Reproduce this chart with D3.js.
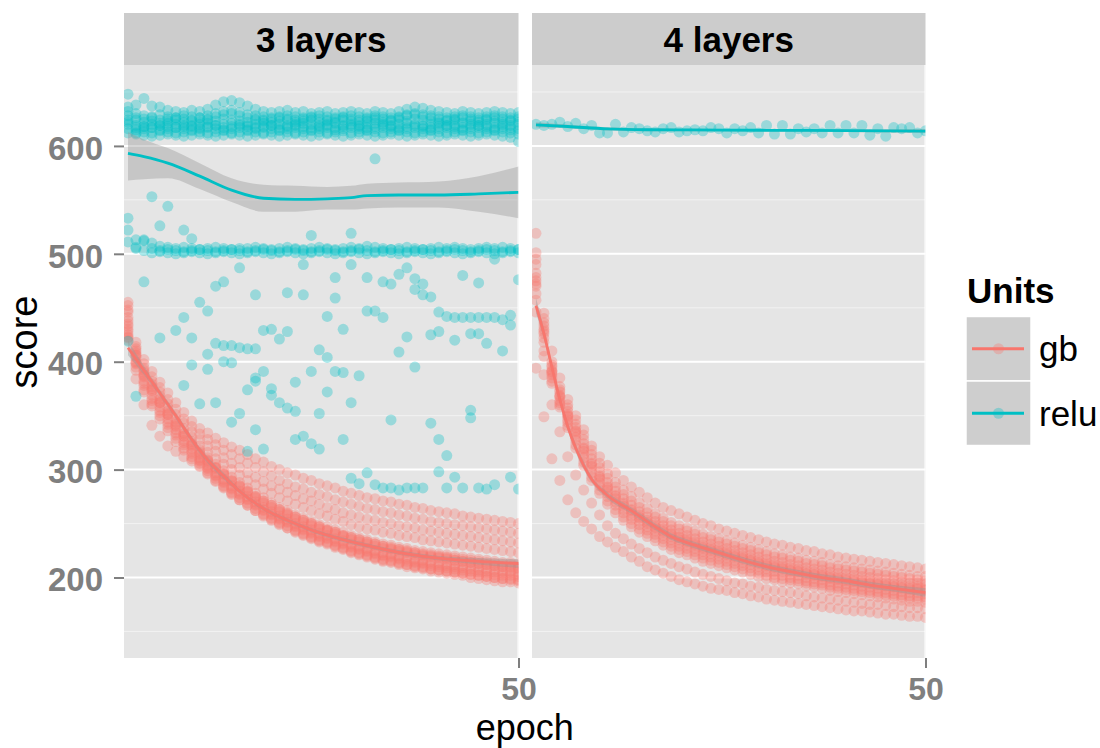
<!DOCTYPE html>
<html>
<head>
<meta charset="utf-8">
<title>score by epoch</title>
<script src="https://cdn.jsdelivr.net/npm/d3@7/dist/d3.min.js"></script>
<style>
  html, body { margin: 0; padding: 0; background: #ffffff; }
  svg { display: block; font-family: "Liberation Sans", Arial, Helvetica, sans-serif; }
</style>
</head>
<body>
<svg id="chart" width="1100" height="748"></svg>
<script>
// ---- categories and ticks ----
const facets = ["3 layers", "4 layers"];
const units = ["gb", "relu"];
const unitColors = ["#F8766D", "#00BFC4"];
const epochs = [1,2,3,4,5,6,7,8,9,10,11,12,13,14,15,16,17,18,19,20,21,22,23,24,25,
                26,27,28,29,30,31,32,33,34,35,36,37,38,39,40,41,42,43,44,45,46,47,48,49,50];
const yTicks = [200, 300, 400, 500, 600];
const yMinorTicks = [150, 250, 350, 450, 550, 650];
const xTicks = [50];

// ---- gb runs, 3 layers (score per epoch) ----
const gb3Runs = [
  [452,418,402,391,381,371,362,353,345,338,334,329,325,321,318,314,310,307,303,300,297,295,292,290,287,285,283,280,278,276,274,273,271,270,268,267,265,264,262,261,260,259,257,256,255,254,253,252,251,250],
  [446,414,398,386,376,365,356,347,340,333,328,323,318,314,310,306,302,298,294,290,287,284,282,279,277,275,272,270,268,266,264,263,261,260,258,257,255,254,252,251,250,249,248,247,246,245,244,243,242,241],
  [441,410,394,382,372,361,351,343,335,328,322,317,311,306,302,297,293,289,285,282,279,276,273,271,268,265,263,260,258,256,254,253,251,250,248,247,246,244,243,242,241,240,239,238,237,236,235,234,233,232],
  [435,406,390,379,368,357,347,338,330,322,316,310,305,300,295,290,286,282,278,274,271,268,265,262,259,257,254,252,249,247,245,244,242,241,239,238,237,235,234,233,232,231,230,229,228,227,226,225,224,223],
  [455,412,392,377,365,354,344,334,326,318,311,305,299,293,288,283,278,274,269,265,262,258,255,252,249,247,244,242,239,237,235,233,231,230,228,227,225,224,223,222,221,220,219,218,217,216,215,214,214,213],
  [438,408,388,375,363,352,342,333,324,316,309,302,296,290,285,280,275,271,267,263,259,256,253,250,247,244,242,239,237,235,233,231,229,227,226,224,223,221,220,219,218,216,215,214,213,212,211,210,209,208],
  [433,406,387,374,362,351,341,331,323,315,308,302,296,290,285,280,275,271,267,263,260,256,253,250,247,244,242,239,237,235,233,231,229,228,226,225,223,222,221,220,219,218,217,216,215,214,213,212,212,211],
  [430,404,386,373,362,351,340,331,322,314,307,301,295,289,284,279,274,269,265,261,258,254,251,248,245,243,240,238,235,233,231,229,227,226,224,223,221,220,219,218,217,216,215,214,213,212,211,210,210,209],
  [425,400,382,369,358,347,337,327,319,311,304,297,291,285,280,275,270,265,261,257,254,250,247,244,241,239,236,234,231,229,227,225,223,222,220,219,217,216,215,214,213,212,211,210,209,208,207,206,206,205],
  [423,399,380,366,355,344,334,325,317,309,302,295,289,283,278,273,268,263,259,255,252,248,245,242,239,237,234,232,229,227,225,223,221,220,218,217,215,214,213,212,211,210,209,208,207,206,205,204,204,203],
  [420,398,378,364,353,342,332,323,315,308,301,294,288,282,277,272,267,262,258,254,251,247,244,241,238,236,233,231,228,226,224,222,220,219,217,215,214,213,211,210,209,208,207,206,205,204,203,202,202,201],
  [428,392,372,359,347,336,326,318,310,303,296,289,283,277,272,267,262,258,254,250,246,243,240,237,234,232,229,227,224,222,220,218,216,215,213,212,210,209,208,207,206,205,204,203,202,201,200,199,198,197],
  [448,395,374,361,350,339,329,320,312,306,299,292,285,279,274,269,264,259,255,251,248,244,241,238,235,233,230,228,225,223,221,219,217,216,214,212,211,210,208,207,206,205,204,203,202,201,200,199,199,198],
  [422,384,360,341,331,322,317,312,308,304,297,290,284,278,272,267,262,257,253,249,246,242,239,236,233,231,228,226,223,221,219,217,215,214,212,210,209,208,206,205,204,203,202,200,199,198,197,196,196,195]
];

// ---- gb runs, 4 layers ----
const gb4Runs = [
  [519,445,410,385,365,350,337,322,312,304,297,290,284,279,274,269,265,262,259,256,253,250,248,245,243,241,239,237,235,233,231,230,228,227,225,224,222,221,219,218,217,216,215,214,213,212,211,210,209,208],
  [501,440,400,377,360,346,332,318,306,296,288,281,275,269,264,259,255,251,248,246,243,240,238,236,234,232,230,228,226,224,222,221,219,218,216,215,214,212,211,210,209,208,207,206,205,204,203,202,201,201],
  [495,436,397,374,357,342,328,314,302,292,284,277,271,265,260,256,252,248,245,243,240,237,235,233,231,229,227,225,223,221,219,218,216,215,213,212,211,209,208,207,206,205,204,203,202,201,200,199,198,197],
  [490,433,395,372,354,339,324,310,298,288,280,273,267,261,256,252,248,244,241,239,236,233,231,229,227,225,223,221,219,217,215,214,212,211,209,208,207,205,204,203,202,201,200,199,198,197,196,195,195,194],
  [482,430,392,369,351,336,320,306,294,284,276,269,263,258,253,249,245,241,238,236,233,230,228,226,224,222,220,218,216,214,212,211,209,208,206,205,204,202,201,200,199,198,197,196,195,194,193,192,192,191],
  [478,428,391,368,350,335,319,305,293,283,275,268,262,256,251,247,243,240,237,234,231,228,226,224,222,220,218,216,214,212,210,209,207,206,204,203,202,200,199,198,197,196,195,194,193,192,191,190,190,189],
  [475,426,390,367,349,333,317,303,291,281,273,266,260,255,250,246,242,238,235,233,230,227,225,223,221,219,217,215,213,211,209,208,206,205,203,202,201,199,198,197,196,195,194,193,192,191,190,189,189,188],
  [472,422,388,364,346,330,314,300,288,278,270,263,257,252,247,243,239,235,232,230,227,224,222,220,218,216,214,212,210,208,206,205,203,202,200,199,198,196,195,194,193,192,191,190,189,188,187,186,186,185],
  [470,418,385,362,344,327,311,297,285,275,267,260,254,249,244,240,236,232,229,227,224,221,219,217,215,213,211,209,207,205,203,202,200,199,197,196,195,193,192,191,190,189,188,187,186,185,184,183,183,182],
  [463,410,382,360,341,323,307,293,281,271,263,256,250,245,241,237,233,229,226,224,221,218,216,214,212,210,208,206,204,202,200,199,198,197,195,194,193,191,190,189,188,187,186,185,184,183,182,181,181,180],
  [457,405,380,358,339,320,304,290,278,268,260,253,247,242,238,234,230,226,223,221,218,215,213,211,209,207,205,203,201,199,198,196,195,194,192,191,190,188,187,186,185,184,183,182,181,180,179,178,178,177],
  [446,388,360,335,312,295,281,269,258,248,241,236,231,227,223,219,216,213,210,208,205,203,201,199,197,195,194,192,191,189,188,187,186,185,183,182,181,180,179,178,177,176,175,175,174,173,173,172,172,171],
  [394,349,310,290,272,260,252,245,238,233,228,224,219,215,210,207,204,201,198,196,194,192,190,189,188,186,185,183,182,180,179,178,177,176,175,174,173,172,171,170,169,169,168,167,166,166,165,164,164,163]
];

// ---- relu runs, 3 layers: the upper band and the band near 500 ----
const relu3Runs = [
  [648,638,644,637,636,633,632,631,633,632,634,638,641,642,640,637,634,632,631,632,633,631,632,630,631,632,630,631,632,631,630,632,631,630,632,634,636,635,633,632,631,630,632,631,630,631,632,631,630,631],
  [636,630,628,627,629,627,626,628,627,626,628,630,632,633,631,629,628,627,626,627,628,627,626,627,628,627,626,627,628,627,626,628,627,626,627,629,630,629,628,627,626,627,628,627,626,627,628,627,626,627],
  [632,626,625,626,624,625,626,625,624,626,625,627,629,630,628,626,625,624,625,626,625,624,625,626,625,624,625,626,625,624,625,626,625,624,626,628,629,627,626,625,624,625,626,625,624,625,626,625,624,625],
  [628,624,622,623,621,623,624,622,623,622,624,623,625,624,623,622,624,623,622,623,624,622,623,624,622,623,622,624,623,622,623,624,622,623,624,623,625,624,623,622,623,624,622,623,622,624,623,622,623,622],
  [624,619,618,620,619,621,620,619,618,620,621,619,620,621,620,619,620,621,619,620,619,620,621,620,619,620,621,619,620,619,620,621,620,619,620,621,620,619,620,621,619,620,621,620,619,620,621,620,619,620],
  [622,617,618,617,619,618,617,618,619,617,618,619,617,618,619,618,617,618,619,617,618,619,618,617,618,619,617,618,619,618,617,618,619,618,617,618,619,618,617,618,619,618,617,618,619,618,617,618,617,616],
  [620,615,616,617,615,616,617,616,615,616,617,616,615,616,617,615,616,617,616,615,616,617,616,615,616,617,615,616,617,616,615,616,617,616,615,616,617,616,615,616,617,616,615,616,617,616,615,616,615,614],
  [616,612,613,612,614,613,612,613,614,613,612,613,614,612,613,614,613,612,613,614,613,612,613,614,613,612,613,614,612,613,614,613,612,613,614,613,612,613,614,613,612,613,614,613,612,613,614,613,612,611],
  [612,611,610,609,610,611,610,609,610,611,610,609,610,611,610,609,610,611,610,609,610,611,610,609,610,611,610,609,610,611,610,609,610,611,610,609,610,611,610,609,610,611,610,609,610,611,610,609,608,604],
  [533,513,512,510,507,506,505,506,505,504,505,506,505,504,505,505,506,505,504,505,506,505,504,505,506,505,504,505,506,505,507,506,505,504,505,506,505,504,505,506,505,506,505,504,505,506,505,506,505,504],
  [522,506,513,505,503,504,503,502,503,504,503,502,503,504,503,502,503,504,503,502,503,504,503,502,503,504,503,502,503,504,503,502,503,504,503,502,503,504,503,502,503,504,503,502,503,504,503,502,503,504],
  [511,505,503,501,502,501,500,501,502,501,500,501,502,501,500,501,502,501,500,501,502,501,500,501,502,501,500,501,502,501,500,501,502,501,500,501,502,501,500,501,502,501,500,501,502,501,500,501,502,501]
];

// ---- relu, 3 layers: scattered scores of the unstable runs [epoch, score] ----
const relu3Scatter = [
  [1,419],[2,368],[3,474],[4,553],[5,526],[5,422],[6,544],[7,429],
  [8,522],[8,441],[8,378],[9,514],[9,422],[9,397],[10,455],[10,361],
  [11,447],[11,407],[11,393],[12,470],[12,417],[12,362],[13,474],[13,415],[13,400],
  [14,415],[14,399],[14,344],[15,487],[15,413],[15,352],[16,412],[16,374],[16,317],
  [17,462],[17,412],[17,385],[17,382],[17,337],[18,429],[18,391],[18,319],
  [19,430],[19,375],[19,369],[20,421],[20,362],[21,464],[21,428],[21,357],
  [22,381],[22,354],[22,328],[23,490],[23,462],[23,331],[24,517],[24,391],[24,324],
  [25,411],[25,352],[25,319],[26,442],[26,404],[26,372],[27,478],[27,459],[27,391],
  [28,430],[28,390],[28,328],[29,519],[29,490],[29,362],[29,292],[30,387],[30,287],
  [31,478],[31,447],[31,297],[32,588],[32,447],[32,286],[33,474],[33,441],[33,283],
  [34,472],[34,346],[34,283],[35,481],[35,409],[35,281],[36,487],[36,423],[36,283],
  [37,477],[37,467],[37,395],[37,283],[38,472],[38,462],[38,283],[39,460],[39,425],[39,343],
  [40,446],[40,428],[40,328],[40,298],[41,442],[41,313],[41,283],[42,441],[42,420],[42,293],
  [43,480],[43,441],[43,283],[44,441],[44,426],[44,355],[44,348],[45,473],[45,441],[45,426],[45,283],
  [46,441],[46,417],[46,282],[47,495],[47,441],[47,286],[48,439],[48,410],
  [49,443],[49,434],[49,293],[50,476],[50,282]
];

// ---- relu run, 4 layers ----
const relu4Runs = [
  [620,619,620,622,618,621,616,619,612,612,620,613,617,616,614,613,616,617,613,614,615,614,617,616,612,616,614,617,612,619,611,619,611,616,613,616,612,619,612,619,612,619,610,616,609,617,616,617,612,614]
];

// ---- smoothed fits with confidence band ----
const gb3SmoothEpoch = [1,3,5,7,9,11,13,15,18,21,24,28,32,36,40,45,50];
const gb3Fit = [413,392,371,350,328,309,294,280,264,253,244,235,228,222,218,215,213];
const gb3Lo  = [406,388,368,347,325,306,291,278,262,251,242,233,226,220,216,212,209];
const gb3Hi  = [420,396,374,353,331,312,297,282,266,255,246,237,230,224,220,218,217];

const relu3SmoothEpoch = [1,3,6,10,14,18,22,26,29,31,35,40,45,50];
const relu3Fit = [593,590,584,572,559,551.5,550.5,551,552,554,554.5,554.5,555.5,557];
const relu3Lo  = [568,569,570,560,548,539,539,541,541,542,543,543,539,533];
const relu3Hi  = [613,606,598,584,570,564,563,562,563,565,566,567,572,581];

const gb4SmoothEpoch = [1,2,3,4,5,6,7,8,10,13,16,18,21,24,27,30,34,37,40,43,46,50];
const gb4Fit = [452,426,395,365,340,320,304,291,276,262,247,238,230,223,216,210,204,200,197,193,190,186];
const gb4Lo  = [445,421,391,361,336,316,300,288,273,259,244,235,227,220,213,207,201,197,194,190,187,182];
const gb4Hi  = [459,431,399,369,344,324,308,294,279,265,250,241,233,226,219,213,207,203,200,196,193,190];

const relu4SmoothEpoch = [1,5,10,15,20,30,40,50];
const relu4Fit = [619.5,618,615.8,615,614.8,614.5,614.2,613.8];
const relu4Lo  = [617,616.3,614.3,613.7,613.6,613.4,613,612];
const relu4Hi  = [622,619.7,617.3,616.3,616,615.6,615.4,615.6];

// ---- layout ----
const svg = d3.select("#chart");
const stripTop = 13, panelTop = 65, panelBottom = 658;
const panelRanges = [[124, 518.5], [532, 925.5]];
const grey50 = "#7F7F7F";
const pointRadius = 5.5, pointAlpha = 0.33;

const y = d3.scaleLinear().domain([125.4, 675]).range([panelBottom, panelTop]);

const panels = [
  {
    gb: gb3Runs, relu: relu3Runs, reluExtra: relu3Scatter,
    smooths: [
      { unit: 0, ep: gb3SmoothEpoch, fit: gb3Fit, lo: gb3Lo, hi: gb3Hi },
      { unit: 1, ep: relu3SmoothEpoch, fit: relu3Fit, lo: relu3Lo, hi: relu3Hi }
    ]
  },
  {
    gb: gb4Runs, relu: relu4Runs, reluExtra: [],
    smooths: [
      { unit: 0, ep: gb4SmoothEpoch, fit: gb4Fit, lo: gb4Lo, hi: gb4Hi },
      { unit: 1, ep: relu4SmoothEpoch, fit: relu4Fit, lo: relu4Lo, hi: relu4Hi }
    ]
  }
];

const runsToPoints = runs => runs.flatMap(run => run.map((v, k) => [epochs[k], v]));

panels.forEach((p, i) => {
  const [x0, x1] = panelRanges[i];
  const x = d3.scaleLinear().domain([0.5, 50]).range([x0, x1]);
  const g = svg.append("g").attr("class", "panel");

  const clipId = "panel-clip-" + i;
  svg.append("clipPath").attr("id", clipId)
    .append("rect").attr("x", x0).attr("y", panelTop)
    .attr("width", x1 - x0).attr("height", panelBottom - panelTop);

  // background and grid
  g.append("rect").attr("x", x0).attr("y", panelTop)
    .attr("width", x1 - x0).attr("height", panelBottom - panelTop)
    .attr("fill", "#E5E5E5");
  g.selectAll("line.minor").data(yMinorTicks).join("line")
    .attr("x1", x0).attr("x2", x1)
    .attr("y1", d => y(d)).attr("y2", d => y(d))
    .attr("stroke", "#F2F2F2").attr("stroke-width", 1);
  g.selectAll("line.major").data(yTicks).join("line")
    .attr("x1", x0).attr("x2", x1)
    .attr("y1", d => y(d)).attr("y2", d => y(d))
    .attr("stroke", "#FFFFFF").attr("stroke-width", 2);

  const plot = g.append("g").attr("clip-path", `url(#${clipId})`);
  plot.selectAll("line.vmajor").data(xTicks).join("line")
    .attr("x1", d => x(d)).attr("x2", d => x(d))
    .attr("y1", panelTop).attr("y2", panelBottom)
    .attr("stroke", "#FFFFFF").attr("stroke-width", 2);

  // points
  const pointSets = [runsToPoints(p.gb), runsToPoints(p.relu).concat(p.reluExtra)];
  pointSets.forEach((pts, u) => {
    plot.append("g").selectAll("circle").data(pts).join("circle")
      .attr("cx", d => x(d[0])).attr("cy", d => y(d[1])).attr("r", pointRadius)
      .attr("fill", unitColors[u]).attr("fill-opacity", pointAlpha);
  });

  // smoothed fits
  p.smooths.forEach(s => {
    const rows = s.ep.map((e, k) => ({ e, fit: s.fit[k], lo: s.lo[k], hi: s.hi[k] }));
    plot.append("path").datum(rows)
      .attr("d", d3.area().x(d => x(d.e)).y0(d => y(d.lo)).y1(d => y(d.hi)).curve(d3.curveMonotoneX))
      .attr("fill", "#999999").attr("fill-opacity", 0.4);
    plot.append("path").datum(rows)
      .attr("d", d3.line().x(d => x(d.e)).y(d => y(d.fit)).curve(d3.curveMonotoneX))
      .attr("fill", "none").attr("stroke", unitColors[s.unit]).attr("stroke-width", 2.8);
  });

  // strip
  g.append("rect").attr("x", x0).attr("y", stripTop)
    .attr("width", x1 - x0).attr("height", panelTop - stripTop)
    .attr("fill", "#CCCCCC");
  g.append("text").attr("x", (x0 + x1) / 2).attr("y", 52)
    .attr("text-anchor", "middle").attr("font-size", 35).attr("font-weight", "bold")
    .attr("fill", "#000000").text(facets[i]);

  // x axis
  const xAxis = svg.append("g").attr("transform", `translate(0,${panelBottom})`)
    .call(d3.axisBottom(x).tickValues(xTicks).tickFormat(d3.format("d"))
      .tickSizeInner(10).tickSizeOuter(0).tickPadding(9.5));
  xAxis.select(".domain").remove();
  xAxis.selectAll("line").attr("stroke", grey50).attr("stroke-width", 2);
  xAxis.selectAll("text").attr("fill", grey50).attr("font-size", 32)
    .attr("font-weight", "bold");
});

// y axis
const yAxis = svg.append("g").attr("transform", `translate(${panelRanges[0][0]},0)`)
  .call(d3.axisLeft(y).tickValues(yTicks).tickSizeInner(10).tickSizeOuter(0).tickPadding(11));
yAxis.select(".domain").remove();
yAxis.selectAll("line").attr("stroke", grey50).attr("stroke-width", 2);
yAxis.selectAll("text").attr("fill", grey50).attr("font-size", 33)
  .attr("font-weight", "bold").attr("dy", "0.4em");
svg.selectAll("g[font-family]").attr("font-family", null);

// axis titles
svg.append("text").attr("x", (panelRanges[0][0] + panelRanges[1][1]) / 2).attr("y", 740)
  .attr("text-anchor", "middle").attr("font-size", 36).attr("fill", "#000000").text("epoch");
svg.append("text").attr("transform", "translate(37,342) rotate(-90)")
  .attr("text-anchor", "middle").attr("font-size", 38).attr("fill", "#000000").text("score");

// legend
const legend = svg.append("g").attr("class", "legend");
legend.append("text").attr("x", 967).attr("y", 303)
  .attr("font-size", 35).attr("font-weight", "bold").attr("fill", "#000000").text("Units");
const keyTop = 316.5, keyH = 64.5, keyX = 966, keyW = 65;
units.forEach((u, k) => {
  const ky = keyTop + k * keyH;
  const cy = ky + keyH / 2;
  legend.append("rect").attr("x", keyX).attr("y", ky).attr("width", keyW).attr("height", keyH)
    .attr("fill", "#F2F2F2").attr("stroke", "#FFFFFF").attr("stroke-width", 1.5);
  legend.append("rect").attr("x", keyX + 0.75).attr("y", ky + 0.75)
    .attr("width", keyW - 1.5).attr("height", keyH - 1.5)
    .attr("fill", "#999999").attr("fill-opacity", 0.4);
  legend.append("circle").attr("cx", keyX + keyW / 2).attr("cy", cy).attr("r", pointRadius)
    .attr("fill", unitColors[k]).attr("fill-opacity", pointAlpha);
  legend.append("line").attr("x1", keyX + 6).attr("x2", keyX + keyW - 7)
    .attr("y1", cy).attr("y2", cy)
    .attr("stroke", unitColors[k]).attr("stroke-width", 3);
  legend.append("text").attr("x", 1039).attr("y", cy).attr("dy", "0.36em")
    .attr("font-size", 35).attr("fill", "#000000").text(u);
});
</script>
</body>
</html>
